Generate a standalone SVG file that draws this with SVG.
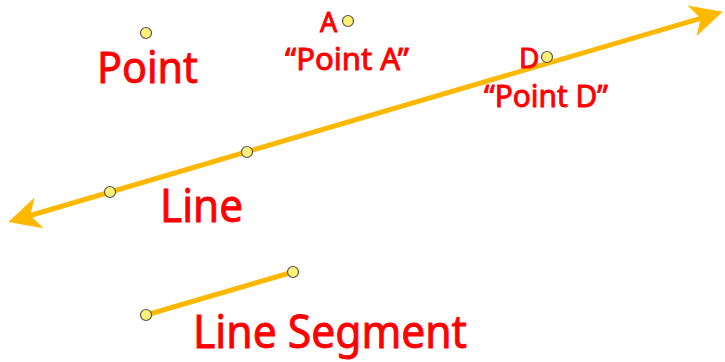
<svg xmlns="http://www.w3.org/2000/svg" width="725" height="362" viewBox="0 0 725 362">
<style>
.lbl{font-family:"Comic Sans MS","Noto Sans","DejaVu Sans",sans-serif;fill:#ff0000;stroke:#ff0000;stroke-width:0.9;}
.pt{fill:#fff176;stroke:#555;stroke-width:1.2;}
.ln{stroke:#ffb800;stroke-width:5;fill:none;}
</style>
<defs>
<marker id="arr" markerUnits="userSpaceOnUse" viewBox="0 0 32 32" markerWidth="32" markerHeight="32" refX="25" refY="16" orient="auto-start-reverse">
<path d="M32,16 L0,0 L9,16 L0,32 Z" fill="#ffb800"/>
</marker>
</defs>
<g id="connectors">
<path class="ln" d="M15,220 L716,13.8" marker-start="url(#arr)" marker-end="url(#arr)"/>
<path class="ln" d="M146,315 L293,272"/>
</g>
<g id="point-single"><circle class="pt" cx="146" cy="33" r="5.5"/></g>
<g id="point-a"><circle class="pt" cx="348" cy="21" r="5.5"/></g>
<g id="point-d"><circle class="pt" cx="547" cy="57" r="5.5"/></g>
<g id="line-pt1"><circle class="pt" cx="110" cy="192" r="5.5"/></g>
<g id="line-pt2"><circle class="pt" cx="247" cy="152" r="5.5"/></g>
<g id="seg-pt1"><circle class="pt" cx="146" cy="315" r="5.5"/></g>
<g id="seg-pt2"><circle class="pt" cx="293" cy="272" r="5.5"/></g>
<g id="labels">
<text class="lbl" x="97" y="83" font-size="44" textLength="101" lengthAdjust="spacingAndGlyphs">Point</text>
<text class="lbl" x="320" y="32" font-size="27">A</text>
<text class="lbl" x="285" y="70" font-size="30" textLength="124" lengthAdjust="spacingAndGlyphs">“Point A”</text>
<text class="lbl" x="519" y="68" font-size="28">D</text>
<text class="lbl" x="484" y="107" font-size="30" textLength="124" lengthAdjust="spacingAndGlyphs">“Point D”</text>
<text class="lbl" x="160" y="222" font-size="46" textLength="83" lengthAdjust="spacingAndGlyphs">Line</text>
<text class="lbl" x="193" y="348" font-size="46" textLength="274" lengthAdjust="spacingAndGlyphs">Line Segment</text>
</g>
</svg>
